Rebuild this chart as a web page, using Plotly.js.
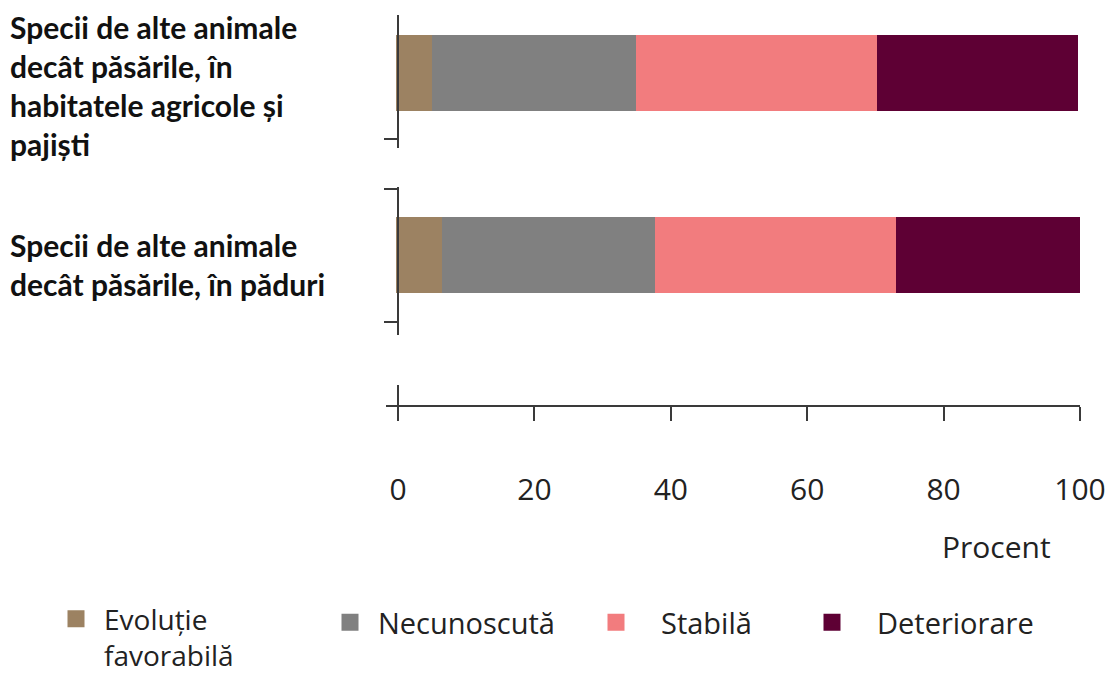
<!DOCTYPE html>
<html>
<head>
<meta charset="utf-8">
<script src="https://cdn.plot.ly/plotly-3.0.1.min.js"></script>
<style>html,body{margin:0;padding:0;background:#fff;}#chart{width:1115px;height:679px;}</style>
</head>
<body>
<div id="chart"></div>
<script>
// ---- data ----
const categories = [
  "Specii de alte animale decât păsările, în habitatele agricole și pajiști",
  "Specii de alte animale decât păsările, în păduri"
];
const categoryLabels = [
  "Specii de alte animale<br>decât păsările, în<br>habitatele agricole și<br>pajiști",
  "Specii de alte animale<br>decât păsările, în păduri"
];
const seriesNames = ["Evoluție<br>favorabilă", "Necunoscută", "Stabilă", "Deteriorare"];
const favorabila  = [5.3, 6.8];
const necunoscuta = [30.0, 31.2];
const stabila     = [35.3, 35.4];
const deteriorare = [28.8, 26.4];
const xTicks = [0, 20, 40, 60, 80, 100];
const xTitle = "Procent";

// ---- styles ----
const colors = ["#9C8262", "#808080", "#F27C7E", "#5E0034"];
const seriesValues = [favorabila, necunoscuta, stabila, deteriorare];
const legendIds = ["legend", "legend2", "legend3", "legend4"];

const traces = seriesValues.map((vals, i) => ({
  type: "bar",
  orientation: "h",
  name: seriesNames[i],
  y: categories,
  x: vals,
  width: 0.391,
  marker: {color: colors[i], line: {color: colors[i], width: 5}},
  legend: legendIds[i],
  hoverinfo: "x+name"
}));

const axisColor = "#3a3a3a";
const px2x = px => (px - 386) / 694;
const py2y = py => (405 - py) / 390;
function seg(x0, y0, x1, y1) {
  return {type: "line", xref: "paper", yref: "paper",
    x0: px2x(x0), y0: py2y(y0), x1: px2x(x1), y1: py2y(y1),
    line: {color: axisColor, width: 2}};
}
const shapes = [
  seg(398, 15, 398, 148), seg(384, 139, 398, 139),
  seg(398, 187, 398, 335), seg(384, 189, 398, 189), seg(384, 322, 398, 322),
  seg(398, 385, 398, 420)
];

const labelFont = {family: "Lato, 'Open Sans', sans-serif", size: 30, color: "#111"};
const annotations = categories.map((c, i) => ({
  xref: "paper", yref: "y", x: px2x(8), y: c, xanchor: "left", yanchor: "middle",
  align: "left", showarrow: false, yshift: i === 0 ? -12 : -10,
  text: '<b>' + categoryLabels[i] + '</b>',
  font: labelFont
}));
annotations.push({
  xref: "paper", yref: "paper", x: px2x(996), y: py2y(546),
  xanchor: "center", yanchor: "middle", showarrow: false, text: xTitle,
  font: {family: "'Open Sans', sans-serif", size: 30, color: "#222"}
});

function leg(pxX, pyY, itemwidth, size, valign) {
  return {x: px2x(pxX), y: py2y(pyY), xanchor: "left", yanchor: "top",
    orientation: "v", bgcolor: "rgba(0,0,0,0)", borderwidth: 0,
    font: {family: "'Open Sans', sans-serif", size: size, color: "#222"},
    itemwidth: itemwidth, valign: valign || "middle",
    traceorder: "normal"};
}

const layout = {
  width: 1115, height: 679,
  margin: {l: 386, r: 35, t: 15, b: 274, pad: 0, autoexpand: false},
  paper_bgcolor: "#fff", plot_bgcolor: "#fff",
  barmode: "stack",
  showlegend: true,
  xaxis: {
    range: [-1.76, 100], tickvals: xTicks, ticktext: xTicks.map(String),
    showgrid: false, zeroline: false, showline: true, linecolor: axisColor, linewidth: 2,
    ticks: "outside", ticklen: 14, tickwidth: 2, tickcolor: axisColor,
    ticklabelstandoff: 43, automargin: false,
    tickfont: {family: "'Open Sans', sans-serif", size: 30, color: "#222"},
    fixedrange: true
  },
  yaxis: {
    type: "category", categoryorder: "array",
    categoryarray: [categories[1], categories[0]],
    range: [-0.829, 1.32], showticklabels: false, showgrid: false, zeroline: false,
    showline: false, ticks: "", fixedrange: true, automargin: false
  },
  legend: leg(48, 594, 46, 28, "top"),
  legend2: leg(322, 597, 46, 29),
  legend3: leg(571, 597, 80, 29),
  legend4: leg(787, 597, 80, 29),
  shapes: shapes,
  annotations: annotations
};

Plotly.newPlot("chart", traces, layout, {displayModeBar: false, staticPlot: true});
</script>
</body>
</html>
